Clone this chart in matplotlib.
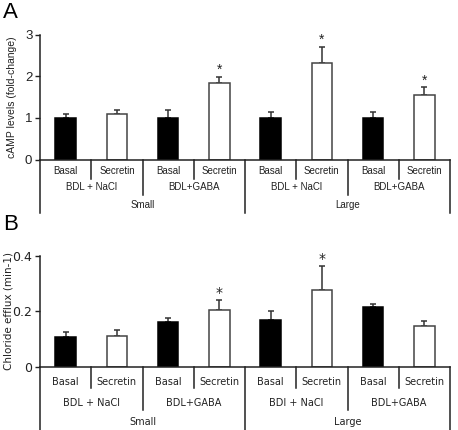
import matplotlib
matplotlib.use("Agg")
import matplotlib.pyplot as plt
from matplotlib.transforms import blended_transform_factory
import numpy as np

# ---- data ----
treatments = ["Basal", "Secretin", "Basal", "Secretin", "Basal", "Secretin", "Basal", "Secretin"]
groups_a = ["BDL + NaCl", "BDL+GABA", "BDL + NaCl", "BDL+GABA"]
groups_b = ["BDL + NaCl", "BDL+GABA", "BDI + NaCl", "BDL+GABA"]
sizes = ["Small", "Large"]

camp_mean = [1.0, 1.10, 1.0, 1.83, 1.0, 2.32, 1.0, 1.56]
camp_err = [0.10, 0.10, 0.18, 0.16, 0.13, 0.38, 0.15, 0.17]
camp_sig = [False, False, False, True, False, True, False, True]

cl_mean = [0.108, 0.110, 0.161, 0.204, 0.167, 0.276, 0.216, 0.145]
cl_err = [0.016, 0.021, 0.016, 0.036, 0.035, 0.089, 0.012, 0.018]
cl_sig = [False, False, False, True, False, True, False, False]

W, H = 458, 430
fig = plt.figure(figsize=(W / 100, H / 100), dpi=100)


def fy(py):
    return 1 - py / H


def panel(ax_rect, means, errs, sig, ylim, yticks, yticklabels, ylabel, groups,
          font, table_rows, label, label_y, ylabel_x, ylabel_size, tick_size):
    ax = fig.add_axes(ax_rect)
    n = len(means)
    x = np.arange(n) + 0.5
    colors = ["black" if t == "Basal" else "white" for t in treatments]
    edges = ["black" if t == "Basal" else "#444444" for t in treatments]
    ax.bar(x, means, width=0.4, color=colors, edgecolor=edges, linewidth=1.1, zorder=2)
    ax.errorbar(x, means, yerr=[np.zeros(n), errs], fmt="none", ecolor="#333333",
                elinewidth=1.1, capsize=2.5, capthick=1.1, zorder=1)
    for xi, m, e, s in zip(x, means, errs, sig):
        if s:
            ax.text(xi, m + e, "*", ha="center", va="bottom", fontsize=10,
                    family=font, color="#222222")
    ax.set_xlim(0, n)
    ax.set_ylim(*ylim)
    ax.set_yticks(yticks)
    ax.set_yticklabels(yticklabels, family=font, fontsize=tick_size)
    ax.set_xticks([])
    for sp in ["top", "right"]:
        ax.spines[sp].set_visible(False)
    for sp in ["left", "bottom"]:
        ax.spines[sp].set_color("#222222")
        ax.spines[sp].set_linewidth(1.1)
    ax.tick_params(axis="y", length=3.5, width=1.0, pad=2, color="#222222",
                   labelcolor="#222222")

    tr = blended_transform_factory(ax.transData, fig.transFigure)
    base_px = (1 - ax_rect[1]) * H
    r1_text, r1_line, r2_text, r2_line, r3_text, r3_line = table_rows
    lw = 1.1
    lc = "#222222"
    for i in range(1, n, 2):
        ax.plot([i, i], [fy(base_px), fy(r1_line)], transform=tr, color=lc, lw=lw, clip_on=False)
    for i in [2, 6]:
        ax.plot([i, i], [fy(base_px), fy(r2_line)], transform=tr, color=lc, lw=lw, clip_on=False)
    for i in [0, 4, 8]:
        ax.plot([i, i], [fy(base_px), fy(r3_line)], transform=tr, color=lc, lw=lw, clip_on=False)
    for xi, t in zip(x, treatments):
        ax.text(xi, fy(r1_text), t, transform=tr, ha="center", va="center",
                fontsize=7, family=font, color="#222222")
    for gi, g in enumerate(groups):
        ax.text(2 * gi + 1, fy(r2_text), g, transform=tr, ha="center", va="center",
                fontsize=7, family=font, color="#222222")
    for si, s in enumerate(sizes):
        ax.text(4 * si + 2, fy(r3_text), s, transform=tr, ha="center", va="center",
                fontsize=7, family=font, color="#222222")
    fig.text(ylabel_x / W, ax_rect[1] + ax_rect[3] / 2, ylabel, rotation=90,
             ha="center", va="center", fontsize=ylabel_size, family=font, color="#222222")
    fig.text(3 / W, fy(label_y), label, ha="left", va="top", fontsize=16,
             family="Liberation Sans", color="black")
    return ax


# Panel A
panel([40 / W, fy(159.5), 410 / W, 125 / H], camp_mean, camp_err, camp_sig,
      (0, 3), [0, 1, 2, 3], ["0", "1", "2", "3"], "cAMP levels (fold-change)",
      groups_a, "Liberation Sans", (171, 179, 187, 195, 205, 213), "A", 2, 12, 7.5, 9.5)

# Panel B
panel([40 / W, fy(366.5), 410 / W, 110.5 / H], cl_mean, cl_err, cl_sig,
      (0, 0.4), [0, 0.2, 0.4], ["0", "0.2", "0.4"], "Chloride efflux (min-1)",
      groups_b, "DejaVu Sans", (382, 388, 403, 410, 422, 432), "B", 214, 9, 7.5, 9)

fig.savefig("out.png", dpi=100)
